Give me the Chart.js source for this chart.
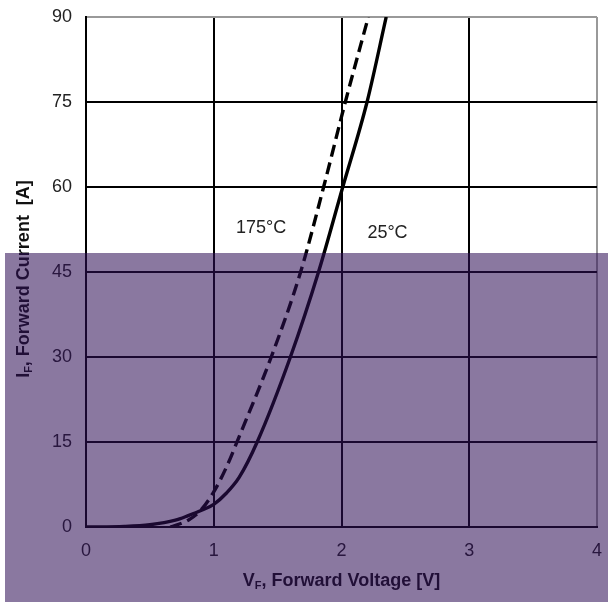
<!DOCTYPE html>
<html>
<head>
<meta charset="utf-8">
<script src="https://cdn.jsdelivr.net/npm/chart.js@4/dist/chart.umd.min.js"></script>
<style>
html,body{margin:0;padding:0;background:#fff;}
#wrap{width:608px;height:602px;position:relative;}
</style>
</head>
<body>
<div id="wrap"><canvas id="c"></canvas></div>
<script>
// ---- data ----
const voltage25  = [0, 0.3, 0.5, 0.7, 0.8, 0.9, 1.0, 1.1, 1.2, 1.34, 1.6, 1.82, 2.01, 2.2, 2.35];
const current25  = [0, 0.1, 0.4, 1.2, 2.0, 2.9, 4.0, 6.0, 8.8, 15, 30, 45, 60, 75, 90];
const voltage175 = [0.66, 0.8, 0.9, 1.0, 1.1, 1.2, 1.45, 1.68, 1.86, 2.03, 2.21];
const current175 = [0, 1.2, 3.0, 6.2, 10.6, 16, 30, 45, 60, 75, 90];
const seriesNames = ["25°C", "175°C"];
const xTicks = [0, 1, 2, 3, 4];
const yTicks = [0, 15, 30, 45, 60, 75, 90];
const noteTexts = ["175°C", "25°C"];
const noteV = [1.37, 2.36];
const noteI = [52.8, 51.8];

const toPts = (xs, ys) => xs.map((x, i) => ({x: x, y: ys[i]}));
const FAM = '"Liberation Sans", Arial, sans-serif';

const overlayPlugin = {
  id: 'extras',
  afterDraw(chart) {
    const ctx = chart.ctx;
    const xs = chart.scales.x, ys = chart.scales.y;
    ctx.save();
    // annotations
    ctx.fillStyle = '#222';
    ctx.font = '18px ' + FAM;
    ctx.textAlign = 'center';
    ctx.textBaseline = 'middle';
    noteTexts.forEach((t, i) => {
      ctx.fillText(t, xs.getPixelForValue(noteV[i]), ys.getPixelForValue(noteI[i]));
    });
    // axis titles with subscript
    const boldF = 'bold 18px ' + FAM;
    const subF = 'bold 11px ' + FAM;
    function drawSub(main, sub, rest, cx, cy) {
      ctx.font = boldF; const w1 = ctx.measureText(main).width;
      const w3 = ctx.measureText(rest).width;
      ctx.font = subF; const w2 = ctx.measureText(sub).width;
      let x = cx - (w1 + w2 + w3) / 2;
      ctx.textAlign = 'left';
      ctx.textBaseline = 'alphabetic';
      ctx.font = boldF; ctx.fillText(main, x, cy + 6); x += w1;
      ctx.font = subF; ctx.fillText(sub, x, cy + 9); x += w2;
      ctx.font = boldF; ctx.fillText(rest, x, cy + 6);
    }
    ctx.fillStyle = '#111';
    drawSub('V', 'F', ', Forward Voltage [V]', (xs.left + xs.right) / 2, 580);
    ctx.save();
    ctx.translate(23, 279);
    ctx.rotate(-Math.PI / 2);
    drawSub('I', 'F', ', Forward Current  [A]', 0, 0);
    ctx.restore();
    // purple tint band seen in the reference picture
    ctx.fillStyle = 'rgba(46,14,86,0.56)';
    ctx.fillRect(5, 253, chart.width - 5, chart.height - 253);
    ctx.restore();
  }
};

new Chart(document.getElementById('c'), {
  type: 'line',
  data: {
    datasets: [
      {label: seriesNames[0], data: toPts(voltage25, current25), borderColor: '#000', borderWidth: 3.4,
       pointRadius: 0, cubicInterpolationMode: 'monotone', fill: false},
      {label: seriesNames[1], data: toPts(voltage175, current175), borderColor: '#000', borderWidth: 3.4,
       borderDash: [12, 6], pointRadius: 0, cubicInterpolationMode: 'monotone', fill: false}
    ]
  },
  options: {
    responsive: true,
    maintainAspectRatio: false,
    animation: false,
    layout: {padding: {top: 17, right: 11, left: 0, bottom: 0}},
    plugins: {legend: {display: false}, tooltip: {enabled: false}},
    scales: {
      x: {
        type: 'linear', min: 0, max: 4,
        afterBuildTicks: s => { s.ticks = xTicks.map(v => ({value: v})); },
        afterFit: s => { s.height = 75; s.paddingRight = 0; s.paddingLeft = 0; },
        grid: {color: c => (c.tick && c.tick.value === 4 ? '#999' : '#000'), lineWidth: 2, drawTicks: false, tickLength: 0},
        border: {color: '#000', width: 2},
        ticks: {color: '#222', padding: 13, font: {family: FAM, size: 18}, maxRotation: 0}
      },
      y: {
        type: 'linear', min: 0, max: 90,
        afterBuildTicks: s => { s.ticks = yTicks.map(v => ({value: v})); },
        afterFit: s => { s.width = 86; s.paddingTop = 0; s.paddingBottom = 0; },
        grid: {color: c => (c.tick && c.tick.value === 90 ? '#999' : '#000'), lineWidth: 2, drawTicks: false, tickLength: 0},
        border: {color: '#000', width: 2},
        ticks: {color: '#222', padding: 14, font: {family: FAM, size: 18}}
      }
    }
  },
  plugins: [overlayPlugin]
});
</script>
</body>
</html>
